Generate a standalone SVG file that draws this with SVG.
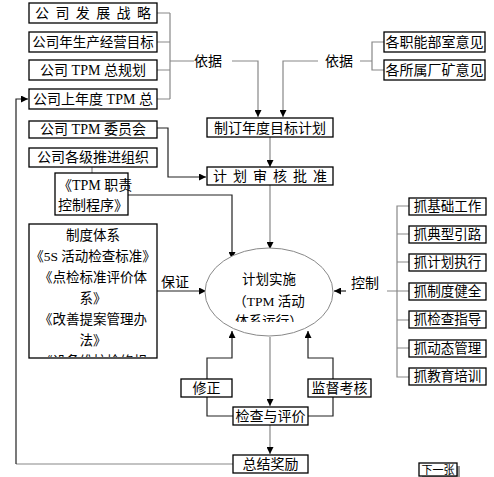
<svg xmlns="http://www.w3.org/2000/svg" width="494" height="477" viewBox="0 0 494 477">
<defs>
<marker id="ah" viewBox="0 0 10 10" refX="10" refY="5" markerWidth="7" markerHeight="7" orient="auto" markerUnits="userSpaceOnUse"><path d="M0,0 L10,5 L0,10 Z" fill="#000"/></marker>
<clipPath id="c1"><rect x="29" y="224" width="128" height="133"/></clipPath>
<clipPath id="c2"><rect x="200" y="240" width="140" height="82"/></clipPath>
</defs>
<style>
text{font-family:"Liberation Serif","Noto Sans CJK SC",serif;fill:#000;}
.b{fill:#fff;stroke:#000;stroke-width:1.3;}
.t{font-size:14px;text-anchor:middle;}
.s{font-size:13.5px;text-anchor:middle;}
.g{fill:none;stroke:#888;stroke-width:1.2;}
.k{fill:none;stroke:#222;stroke-width:1.2;}
</style>
<rect width="494" height="477" fill="#fff"/>
<g id="connectors">
<path class="g" d="M157,13 H170 M157,42 H170 M157,70 H170 M157,99 H170 M170,13 V99 M170,61 H194 M232,61 H258 V117" marker-end="url(#ah)"/>
<path class="g" d="M384,42 H372 V70 H384 M372,61 H360 M318,61 H283 V117" marker-end="url(#ah)"/>
<path class="k" d="M157,128 H168 V177 H206" marker-end="url(#ah)"/>
<path class="g" d="M270,137 V167" marker-end="url(#ah)"/>
<path class="g" d="M270,185 V249" marker-end="url(#ah)"/>
<path class="g" d="M92,167 V173"/>
<path class="k" d="M128,195 H232 V259" marker-end="url(#ah)"/>
<path class="k" d="M157,291 H206" marker-end="url(#ah)"/>
<path class="g" d="M409,206 H397 V377 H409 M397,234 H409 M397,262 H409 M397,291 H409 M397,320 H409 M397,348 H409 M397,291 H387"/>
<path class="k" d="M346,291 H334" marker-end="url(#ah)"/>
<path class="g" d="M270,337 V406" marker-end="url(#ah)"/>
<path class="g" d="M270,425 V454" marker-end="url(#ah)"/>
<path class="k" d="M233,416 H207 V397 M207,379 V358 H232 V331" marker-end="url(#ah)"/>
<path class="k" d="M308,416 H333 V397 M333,379 V358 H308 V331" marker-end="url(#ah)"/>
<path class="g" d="M233,464 H16"/>
<path class="k" d="M16,464 V99 H28" marker-end="url(#ah)"/>
</g>
<g id="n1"><rect class="b" x="29" y="3" width="128" height="20"/><text class="t" x="93" y="18" textLength="116" lengthAdjust="spacing">公司发展战略</text></g>
<g id="n2"><rect class="b" x="29" y="32" width="128" height="20"/><text class="t" x="93" y="47" style="font-size:13.5px">公司年生产经营目标</text></g>
<g id="n3"><rect class="b" x="29" y="60" width="128" height="20"/><text class="t" x="93" y="75">公司 TPM 总规划</text></g>
<g id="n4"><rect class="b" x="29" y="89" width="128" height="20"/><text class="t" x="93" y="104">公司上年度 TPM 总</text></g>
<g id="n5"><rect class="b" x="384" y="32" width="101" height="20"/><text class="t" x="434.5" y="47">各职能部室意见</text></g>
<g id="n6"><rect class="b" x="384" y="60" width="101" height="20"/><text class="t" x="434.5" y="75">各所属厂矿意见</text></g>
<text class="t" x="208" y="66">依据</text>
<text class="t" x="339" y="66">依据</text>
<g id="n7"><rect class="b" x="207" y="118" width="126" height="19"/><text class="t" x="270" y="133">制订年度目标计划</text></g>
<g id="n8"><rect class="b" x="207" y="167" width="126" height="18"/><text class="t" x="270" y="181" textLength="114" lengthAdjust="spacing">计划审核批准</text></g>
<g id="n9"><rect class="b" x="29" y="121" width="128" height="17"/><text class="t" x="93" y="134">公司 TPM 委员会</text></g>
<g id="n10"><rect class="b" x="29" y="148" width="128" height="19"/><text class="t" x="93" y="162">公司各级推进组织</text></g>
<g id="n11"><rect class="b" x="55" y="173" width="73" height="42"/><text class="t" x="58" y="190" style="text-anchor:start">《TPM 职责</text><text class="t" x="58" y="210" style="text-anchor:start">控制程序》</text></g>
<g id="n12"><rect class="b" x="29" y="224" width="128" height="134"/>
<g clip-path="url(#c1)">
<text class="s" x="93" y="240">制度体系</text>
<text class="s" x="93" y="261">《5S 活动检查标准》</text>
<text class="s" x="93" y="282">《点检标准评价体</text>
<text class="s" x="93" y="303">系》</text>
<text class="s" x="93" y="324">《改善提案管理办</text>
<text class="s" x="93" y="345">法》</text>
<text class="s" x="93" y="366">《设备维护检修规</text>
</g></g>
<text class="t" x="175" y="287">保证</text>
<g id="n13"><ellipse cx="269" cy="292" rx="64" ry="44" fill="#fff" stroke="#888" stroke-width="1"/>
<g clip-path="url(#c2)">
<text class="s" x="269" y="284">计划实施</text>
<text class="s" x="269" y="306">（TPM 活动</text>
<text class="s" x="269" y="326">体系运行）</text>
</g></g>
<text class="t" x="365" y="288">控制</text>
<g id="r1"><rect class="b" x="409" y="198" width="77" height="17"/><text class="s" x="447.5" y="211">抓基础工作</text></g>
<g id="r2"><rect class="b" x="409" y="226" width="77" height="17"/><text class="s" x="447.5" y="239">抓典型引路</text></g>
<g id="r3"><rect class="b" x="409" y="254" width="77" height="17"/><text class="s" x="447.5" y="267">抓计划执行</text></g>
<g id="r4"><rect class="b" x="409" y="283" width="77" height="17"/><text class="s" x="447.5" y="296">抓制度健全</text></g>
<g id="r5"><rect class="b" x="409" y="311" width="77" height="17"/><text class="s" x="447.5" y="324">抓检查指导</text></g>
<g id="r6"><rect class="b" x="409" y="340" width="77" height="17"/><text class="s" x="447.5" y="353">抓动态管理</text></g>
<g id="r7"><rect class="b" x="409" y="368" width="77" height="17"/><text class="s" x="447.5" y="381">抓教育培训</text></g>
<g id="n14"><rect class="b" x="181" y="379" width="51" height="18"/><text class="t" x="206.5" y="393">修正</text></g>
<g id="n15"><rect class="b" x="308" y="379" width="63" height="18"/><text class="t" x="339.5" y="393">监督考核</text></g>
<g id="n16"><rect class="b" x="233" y="407" width="75" height="18"/><text class="t" x="270.5" y="421">检查与评价</text></g>
<g id="n17"><rect class="b" x="233" y="455" width="75" height="18"/><text class="t" x="270.5" y="469">总结奖励</text></g>
<g id="next"><rect x="422" y="466" width="38" height="13" fill="#999"/><rect class="b" x="419" y="463" width="38" height="13"/><text x="438" y="474" style="font-size:11px;text-anchor:middle">下一张</text></g>
</svg>
